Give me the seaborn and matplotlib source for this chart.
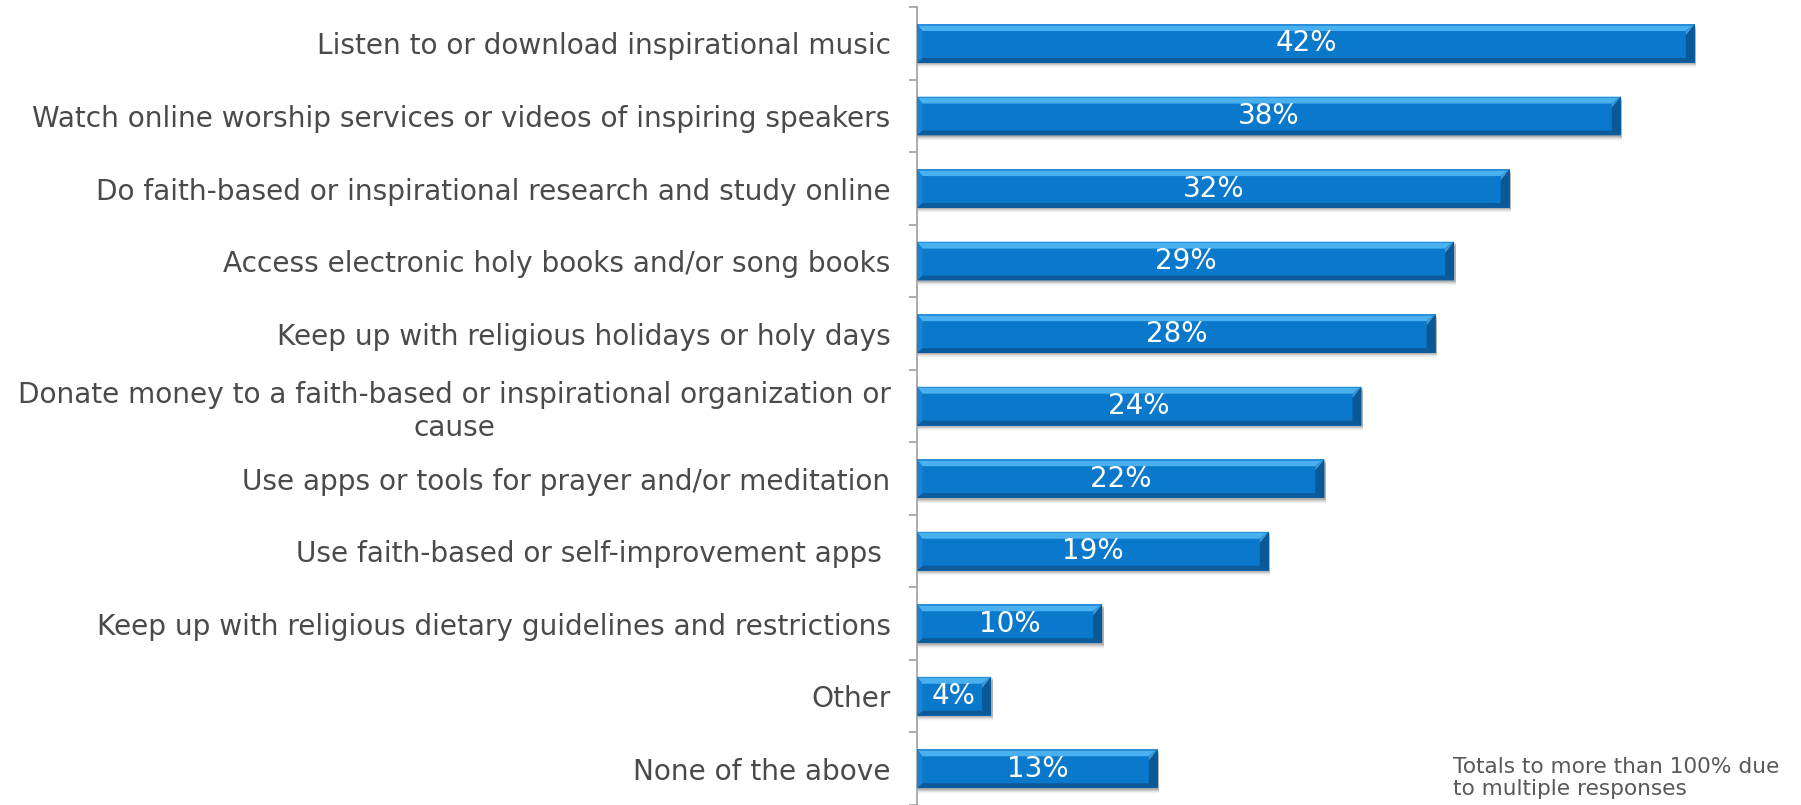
import matplotlib
matplotlib.use("Agg")
import matplotlib.pyplot as plt
import numpy as np
import pandas as pd
import seaborn as sns
from matplotlib.patches import Polygon, Rectangle

activities = [
    "Listen to or download inspirational music",
    "Watch online worship services or videos of inspiring speakers",
    "Do faith-based or inspirational research and study online",
    "Access electronic holy books and/or song books",
    "Keep up with religious holidays or holy days",
    "Donate money to a faith-based or inspirational organization or\ncause",
    "Use apps or tools for prayer and/or meditation",
    "Use faith-based or self-improvement apps ",
    "Keep up with religious dietary guidelines and restrictions",
    "Other",
    "None of the above",
]
shares = [42, 38, 32, 29, 28, 24, 22, 19, 10, 4, 13]
footnote = "Totals to more than 100% due\nto multiple responses"

W, H = 1801, 805
sns.set_theme(style="white")
plt.rcParams["font.family"] = ["DejaVu Sans"]

fig = plt.figure(figsize=(W / 100, H / 100), dpi=100)
ax_left, ax_right, ax_top = 917, 1790, 7.2
ax = fig.add_axes([ax_left / W, 0, (ax_right - ax_left) / W, (H - ax_top) / H])

df = pd.DataFrame({"activity": activities, "share": shares})
sns.barplot(data=df, x="share", y="activity", orient="h", color="#0A78CB",
            saturation=1, width=0.535, ax=ax, zorder=3)

px_per_x = 18.52
px_per_cat = 72.94
ax.set_xlim(0, (ax_right - ax_left) / px_per_x)
ax.set_ylim(-0.5 + (H - ax_top) / px_per_cat, -0.5)

dx = 9 / px_per_x
dy = 7 / px_per_cat
for p, v in zip(ax.patches, shares):
    x0, y0, w, h = p.get_x(), p.get_y(), p.get_width(), p.get_height()
    p.set_edgecolor("none")
    # soft drop shadow under each bar
    for k, a in enumerate([0.12, 0.09, 0.06, 0.04, 0.02]):
        off = (1.5 + k) / px_per_cat
        ax.add_patch(Rectangle((x0 + 0.08, y0 + off), w, h,
                               facecolor="#000000", alpha=a, edgecolor="none", zorder=2))
    # bevelled edges
    ax.add_patch(Polygon([(x0, y0), (x0 + w, y0), (x0 + w - dx, y0 + dy), (x0 + dx * 0.6, y0 + dy)],
                         closed=True, facecolor="#4AB1F1", edgecolor="none", zorder=4))
    ax.add_patch(Polygon([(x0, y0), (x0 + w, y0), (x0 + w, y0 + 1.5 / px_per_cat), (x0, y0 + 1.5 / px_per_cat)],
                         closed=True, facecolor="#2A8ED8", edgecolor="none", zorder=4))
    ax.add_patch(Polygon([(x0, y0 + h), (x0 + w, y0 + h), (x0 + w - dx, y0 + h - dy * 0.7), (x0 + dx * 0.6, y0 + h - dy * 0.7)],
                         closed=True, facecolor="#0A5A9C", edgecolor="none", zorder=4))
    ax.add_patch(Polygon([(x0 + w, y0), (x0 + w, y0 + h), (x0 + w - dx, y0 + h - dy * 0.7), (x0 + w - dx, y0 + dy)],
                         closed=True, facecolor="#0B5896", edgecolor="none", zorder=4))
    ax.add_patch(Polygon([(x0 + w, y0), (x0 + w - dx, y0 + dy), (x0 + w - dx, y0 + dy * 1.6)],
                         closed=True, facecolor="#3C9BDD", edgecolor="none", zorder=4))
    ax.add_patch(Polygon([(x0, y0), (x0, y0 + h), (x0 + dx * 0.6, y0 + h - dy * 0.7), (x0 + dx * 0.6, y0 + dy)],
                         closed=True, facecolor="#1A84D2", edgecolor="none", zorder=4))
    ax.text(v / 2, y0 + h / 2, f"{v}%", ha="center", va="center",
            color="white", fontsize=20, zorder=5)

# axis styling
for side in ["top", "right", "bottom"]:
    ax.spines[side].set_visible(False)
ax.spines["left"].set_color("#A6A6A6")
ax.spines["left"].set_linewidth(1.3)
ax.set_xticks([])
ax.set_xlabel("")
ax.set_ylabel("")
ax.set_yticks(range(len(activities)))
ax.set_yticklabels(activities, fontsize=20.2, color="#4A4A4A", ha="right",
                   multialignment="center", linespacing=1.2)
ax.set_yticks(np.arange(-0.5, len(activities), 1), minor=True)
ax.tick_params(axis="y", which="major", length=0, pad=19)
ax.tick_params(axis="y", which="minor", left=True, length=6, width=1.3, color="#A6A6A6")

fig.text(1453 / W, 1 - 757 / H, footnote, ha="left", va="top",
         fontsize=15.6, color="#595959", linespacing=1.15)

fig.savefig("out.png", dpi=100)
